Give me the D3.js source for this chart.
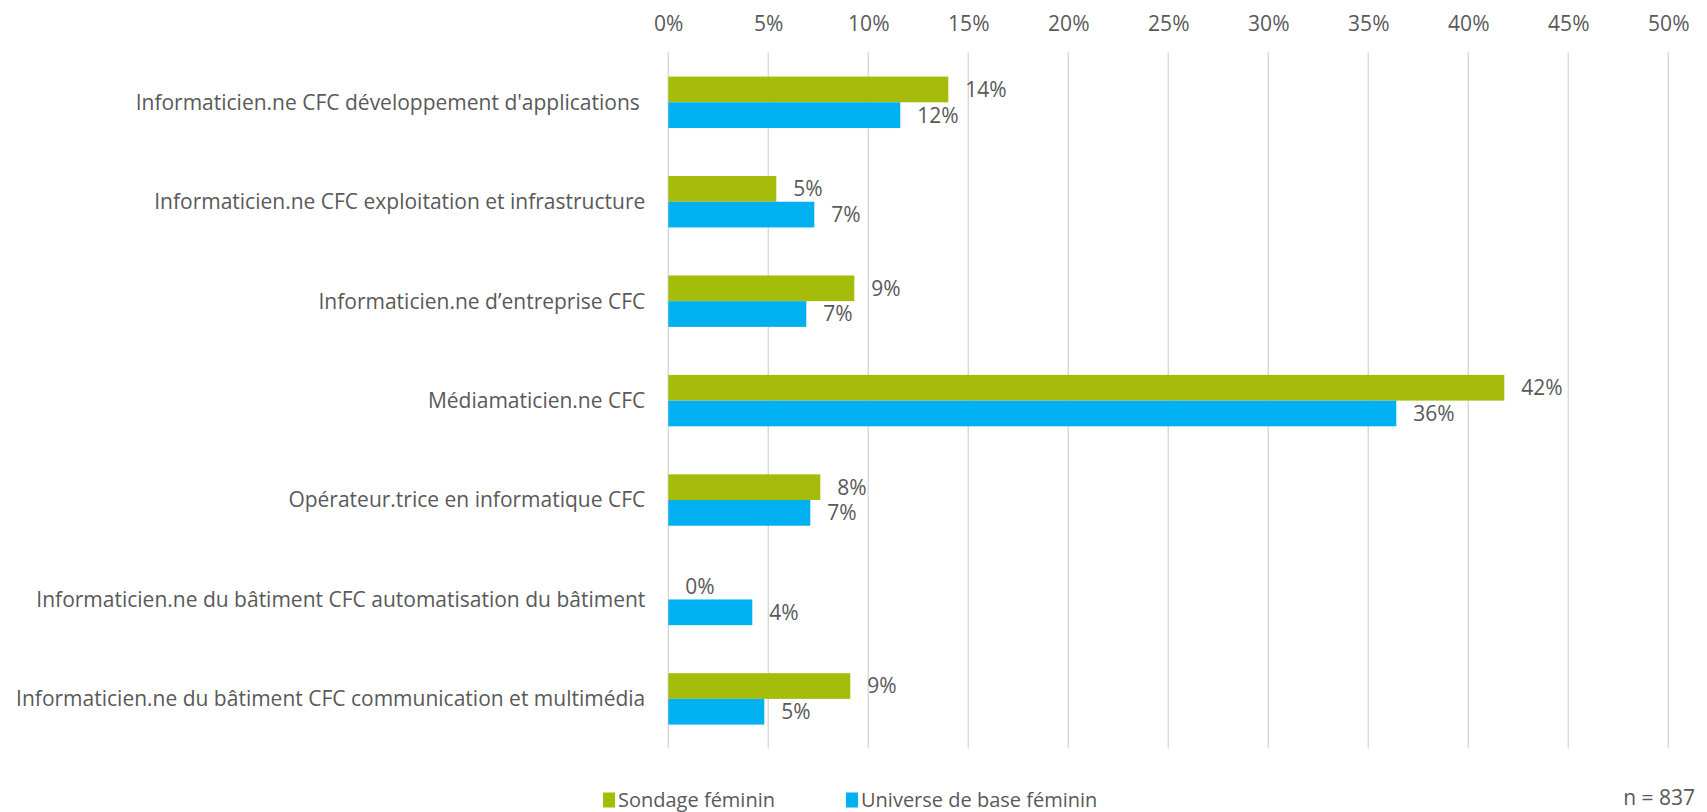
<!DOCTYPE html>
<html>
<head>
<meta charset="utf-8">
<script src="https://cdn.jsdelivr.net/npm/d3@7"></script>
<style>
	body { margin: 0; background: #fff; }
	text { font-family: 'Open Sans', 'Noto Sans', sans-serif; fill: #595959; }
</style>
</head>
<body>
<div id="chart"></div>
<script>
// Data (percent)
var categories = [
	"Informaticien.ne CFC développement d'applications ",
	'Informaticien.ne CFC exploitation et infrastructure',
	'Informaticien.ne d\u2019entreprise CFC',
	'Médiamaticien.ne CFC',
	'Opérateur.trice en informatique CFC',
	'Informaticien.ne du bâtiment CFC automatisation du bâtiment',
	'Informaticien.ne du bâtiment CFC communication et multimédia'
];
var series = ['Sondage féminin', 'Universe de base féminin'];
var sondage = [14.0, 5.4, 9.3, 41.8, 7.6, 0, 9.1];
var universe = [11.6, 7.3, 6.9, 36.4, 7.1, 4.2, 4.8];
var x_ticks = [0, 5, 10, 15, 20, 25, 30, 35, 40, 45, 50];
var colors = ['#a5bd0a', '#00b0f0'];
var note = 'n = 837';

var total_width = 1707;
var total_height = 812;
var margin = {
	top: 52.6,
	left: 668.3,
	right: 38.7,
	bottom: 63.4
};
var width = total_width - margin.left - margin.right;
var height = total_height - margin.top - margin.bottom;
var font = "'Open Sans', 'Noto Sans', sans-serif";

var svg = d3.select('#chart')
	.append('svg')
	.attr('width', total_width)
	.attr('height', total_height);

var main = svg.append('g')
	.attr('transform', 'translate(' + margin.left + ',' + margin.top + ')');

var x_scale = d3.scaleLinear().domain([0, 50]).range([0, width]);
var y_scale = d3.scaleBand().domain(categories).range([0, height])
	.paddingInner(0.483)
	.paddingOuter(0.2415);
var y_inner = d3.scaleBand().domain(series).range([0, y_scale.bandwidth()]);

// Gridlines
main.selectAll('.grid')
	.data(x_ticks)
	.enter()
	.append('line')
	.attr('class', 'grid')
	.attr('x1', function(d) { return x_scale(d); })
	.attr('x2', function(d) { return x_scale(d); })
	.attr('y1', 0)
	.attr('y2', height)
	.attr('stroke', '#d9d9d9')
	.attr('stroke-width', 1.5);

// Top axis (labels only)
var axis = main.append('g')
	.attr('class', 'axis')
	.call(d3.axisTop(x_scale).tickValues(x_ticks).tickSize(0).tickPadding(22)
		.tickFormat(function(d) { return d + '%'; }));
axis.select('.domain').remove();
axis.selectAll('text')
	.attr('font-size', '21px')
	.style('font-family', font)
	.attr('fill', '#595959');

// Category labels
main.selectAll('.catlabel')
	.data(categories)
	.enter()
	.append('text')
	.attr('class', 'catlabel')
	.text(function(d) { return d; })
	.attr('x', -23)
	.attr('y', function(d) { return y_scale(d) + y_scale.bandwidth() / 2; })
	.attr('dy', '0.35em')
	.attr('text-anchor', 'end')
	.attr('font-size', '21px')
	.style('white-space', 'pre');

// Bars
var rows = [];
for (var i = 0; i < categories.length; i++) {
	rows.push({ cat: categories[i], s: series[0], v: sondage[i], c: 0 });
	rows.push({ cat: categories[i], s: series[1], v: universe[i], c: 1 });
}

main.selectAll('.bar')
	.data(rows)
	.enter()
	.append('rect')
	.attr('class', 'bar')
	.attr('x', x_scale(0))
	.attr('y', function(d) { return y_scale(d.cat) + y_inner(d.s); })
	.attr('width', function(d) { return x_scale(d.v) - x_scale(0); })
	.attr('height', y_inner.bandwidth())
	.attr('fill', function(d) { return colors[d.c]; });

// Value labels
main.selectAll('.vallabel')
	.data(rows)
	.enter()
	.append('text')
	.attr('class', 'vallabel')
	.text(function(d) { return Math.round(d.v) + '%'; })
	.attr('x', function(d) { return x_scale(d.v) + 17; })
	.attr('y', function(d) { return y_scale(d.cat) + y_inner(d.s) + y_inner.bandwidth() / 2; })
	.attr('dy', '0.35em')
	.attr('font-size', '21px');

// Legend
var legend_x = [603, 846];
var legend = svg.selectAll('.legend')
	.data(series)
	.enter()
	.append('g')
	.attr('class', 'legend')
	.attr('transform', function(d, i) { return 'translate(' + legend_x[i] + ',' + 800 + ')'; });
legend.append('rect')
	.attr('x', 0)
	.attr('y', -7.5)
	.attr('width', 12)
	.attr('height', 15)
	.attr('fill', function(d, i) { return colors[i]; });
legend.append('text')
	.text(function(d) { return d; })
	.attr('x', 15)
	.attr('y', 0)
	.attr('dy', '0.35em')
	.attr('font-size', '20px');

svg.append('text')
	.text(note)
	.attr('x', 1695)
	.attr('y', 798)
	.attr('dy', '0.35em')
	.attr('text-anchor', 'end')
	.attr('font-size', '21px');
</script>
</body>
</html>
